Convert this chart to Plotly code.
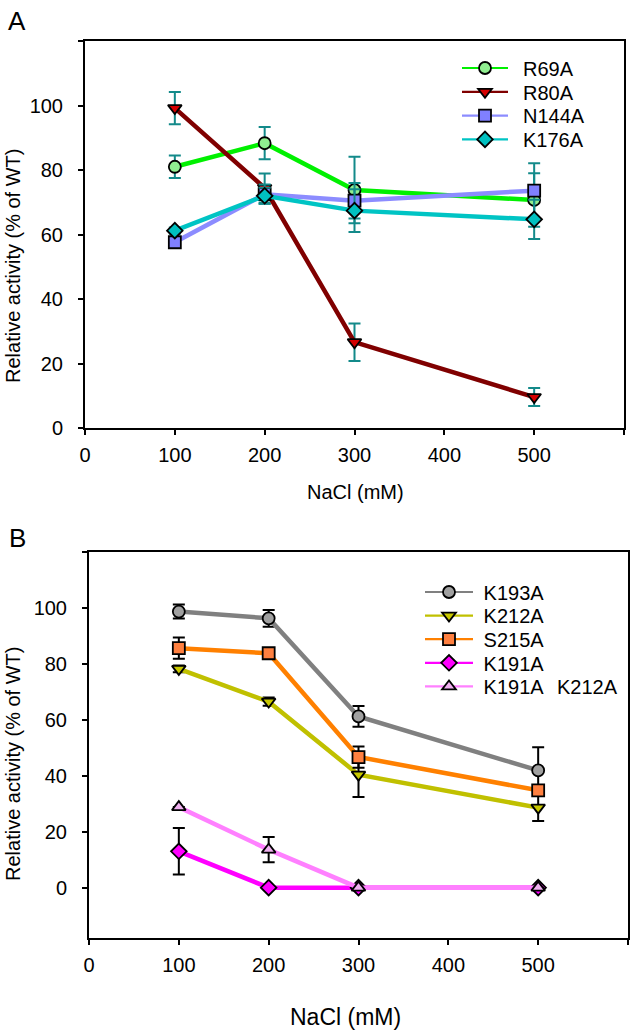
import plotly.graph_objects as go

# ---------------- data ----------------
nacl = [100, 200, 300, 500]

# Panel A
a_names = ["R69A", "R80A", "N144A", "K176A"]
r69a = [81.0, 88.3, 73.8, 70.7]
r69a_err = [3.5, 5.0, 10.3, 8.3]
r80a = [99.2, 74.4, 26.6, 9.6]
r80a_err = [5.0, 4.5, 5.8, 2.8]
n144a = [57.6, 72.5, 70.5, 73.6]
n144a_err = [1.5, 3.0, 5.5, 8.5]
k176a = [61.2, 72.0, 67.4, 64.7]
k176a_err = [1.0, 2.5, 6.6, 6.1]

# Panel B
b_names = ["K193A", "K212A", "S215A", "K191A", "K191A\u2002\u2006K212A"]
k193a = [98.7, 96.3, 61.2, 41.9]
k193a_err = [2.5, 3.0, 3.7, 8.3]
k212a = [78.2, 66.5, 40.4, 28.6]
k212a_err = [1.2, 1.5, 8.0, 4.8]
s215a = [85.6, 83.8, 46.7, 34.8]
s215a_err = [3.8, 1.0, 3.8, 1.5]
k191a = [13.0, 0, 0, 0]
k191a_err = [8.3, 0, 0, 0]
k191a_k212a = [28.8, 13.6, 0, 0]
k191a_k212a_err = [0, 4.5, 0, 0]

y_ticks = [0, 20, 40, 60, 80, 100, 120]
y_ticktext = ["0", "20", "40", "60", "80", "100", ""]
x_ticks = [0, 100, 200, 300, 400, 500, 600]
x_ticktext = ["0", "100", "200", "300", "400", "500", ""]

# ---------------- styling ----------------
W, H = 630, 1031
FONT = "Liberation Sans, Arial, sans-serif"
ERR_A = "#138a8a"
FS = 20

series_a = [
    (a_names[0], r69a, r69a_err, "#00f000", "#90ee90", "circle"),
    (a_names[1], r80a, r80a_err, "#800000", "#d40000", "triangle-down"),
    (a_names[2], n144a, n144a_err, "#8c8cff", "#8080ff", "square"),
    (a_names[3], k176a, k176a_err, "#00c4c4", "#00c0c0", "diamond"),
]
series_b = [
    (b_names[0], k193a, k193a_err, "#808080", "#a0a0a0", "circle"),
    (b_names[1], k212a, k212a_err, "#c0c000", "#c8c800", "triangle-down"),
    (b_names[2], s215a, s215a_err, "#ff8000", "#ff8040", "square"),
    (b_names[3], k191a, k191a_err, "#ff00ff", "#ff00ff", "diamond"),
    (b_names[4], k191a_k212a, k191a_k212a_err, "#ff80ff", "#f0b0f0", "triangle-up"),
]


def px_x(px):
    return px / W


def px_y(py):
    return (H - py) / H


fig = go.Figure()
legend_layouts = {}
legend_counter = [0]


def add_series(series, xa, ya, err_color, leg_x, leg_y0, leg_dy, itemw, prefix):
    for name, vals, errs, lc, mc, sym in series:
        fig.add_trace(go.Scatter(
            x=nacl, y=vals, mode="lines+markers", name=name,
            xaxis=xa, yaxis=ya, showlegend=False,
            line=dict(color=lc, width=4.5),
            marker=dict(symbol=sym, size=12, color=mc,
                        line=dict(color="black", width=1.8)),
            error_y=dict(type="data", array=errs, visible=True,
                         color=err_color, thickness=2, width=6),
            cliponaxis=False,
        ))
    for i, (name, vals, errs, lc, mc, sym) in enumerate(series):
        legend_counter[0] += 1
        key = "legend" if legend_counter[0] == 1 else "legend%d" % legend_counter[0]
        fig.add_trace(go.Scatter(
            x=[None], y=[None], mode="lines+markers", name=prefix + name,
            xaxis=xa, yaxis=ya, legend=key, showlegend=True,
            line=dict(color=lc, width=2.2),
            marker=dict(symbol=sym, size=12, color=mc,
                        line=dict(color="black", width=1.8)),
        ))
        legend_layouts[key] = dict(
            x=px_x(leg_x), y=px_y(leg_y0 + i * leg_dy),
            xanchor="left", yanchor="middle",
            bgcolor="rgba(0,0,0,0)", itemwidth=itemw,
            font=dict(family=FONT, size=FS, color="black"),
        )


add_series(series_a, "x", "y", ERR_A, 457, 68, 23.8, 46, "\u2002")
add_series(series_b, "x2", "y2", "black", 420, 592, 23.6, 48, "\u00a0")

axis_common = dict(
    showline=True, linecolor="black", linewidth=2, mirror=True,
    ticks="outside", ticklen=5, tickwidth=2, tickcolor="black",
    showgrid=False, zeroline=False, automargin=False,
    tickfont=dict(family=FONT, size=FS, color="black"),
)

fig.update_layout(
    width=W, height=H,
    margin=dict(l=0, r=0, t=0, b=0, autoexpand=False),
    paper_bgcolor="white", plot_bgcolor="white",
    font=dict(family=FONT, color="black"),
    xaxis=dict(domain=[px_x(85), px_x(624)], range=[0, 600],
               tickmode="array", tickvals=x_ticks, ticktext=x_ticktext,
               anchor="y", ticklabelstandoff=3, **axis_common),
    yaxis=dict(domain=[px_y(428), px_y(41)], range=[0, 120],
               tickmode="array", tickvals=y_ticks, ticktext=y_ticktext,
               anchor="x", ticklabelstandoff=11, **axis_common),
    xaxis2=dict(domain=[px_x(89), px_x(628)], range=[0, 600],
                tickmode="array", tickvals=x_ticks, ticktext=x_ticktext,
                anchor="y2", ticklabelstandoff=3, **axis_common),
    yaxis2=dict(domain=[px_y(938), px_y(552)], range=[-18, 120],
                tickmode="array", tickvals=y_ticks, ticktext=y_ticktext,
                anchor="x2", ticklabelstandoff=11, **axis_common),
    showlegend=True,
    **legend_layouts,
)

ann = [
    dict(text="A", x=px_x(17), y=px_y(21), font=dict(size=26)),
    dict(text="B", x=px_x(17), y=px_y(538), font=dict(size=26)),
    dict(text="NaCl (mM)", x=px_x(355), y=px_y(492), font=dict(size=20)),
    dict(text="NaCl (mM)", x=px_x(345), y=px_y(1017), font=dict(size=23)),
    dict(text="Relative activity (% of WT)", x=px_x(13), y=px_y(266),
         textangle=-90, font=dict(size=20)),
    dict(text="Relative activity (% of WT)", x=px_x(13), y=px_y(764),
         textangle=-90, font=dict(size=20)),
]
for a in ann:
    fig.add_annotation(xref="paper", yref="paper", showarrow=False,
                       xanchor="center", yanchor="middle",
                       font_family=FONT, font_color="black", **a)

fig.write_html(
    "out.html",
    config={"displayModeBar": False},
    post_script="document.body.style.margin='0px';document.body.style.overflow='hidden';",
)
